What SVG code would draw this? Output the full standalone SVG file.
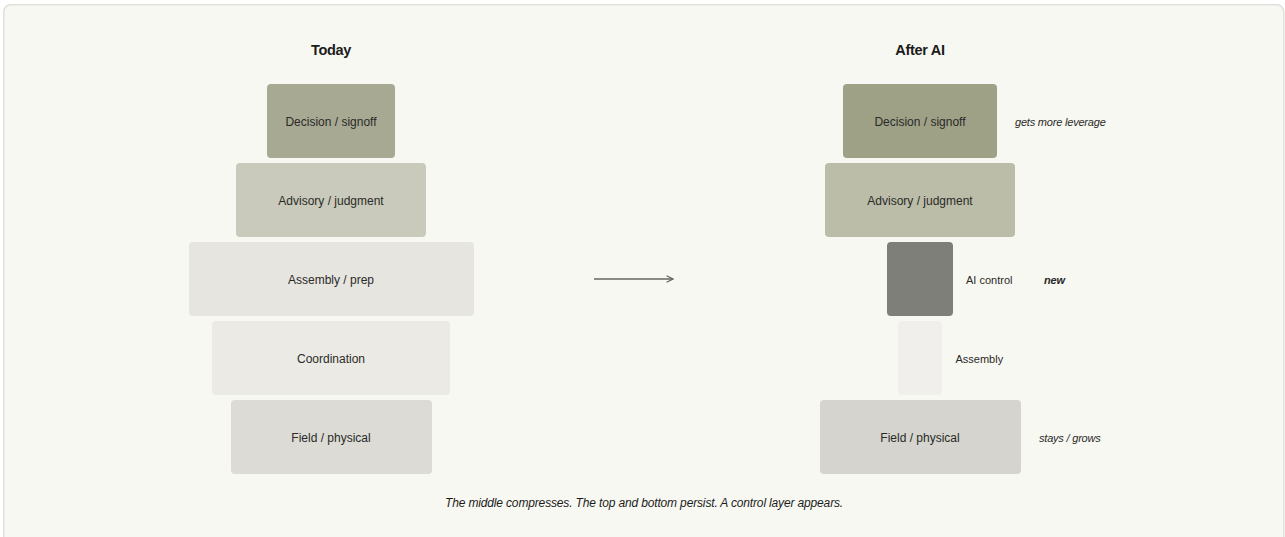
<svg xmlns="http://www.w3.org/2000/svg" width="1285" height="537" viewBox="0 0 1285 537">
<style>
.bg{fill:#f8f8f3;stroke:#e1e1db;stroke-width:1.5}
.title{font-family:"Liberation Sans",Arial,sans-serif;font-size:14.5px;font-weight:bold;fill:#1c1c1a;text-anchor:middle;letter-spacing:-0.3px}
.lbl{font-family:"Liberation Sans",Arial,sans-serif;font-size:12px;fill:#2a2a27;text-anchor:middle}
.side{font-family:"Liberation Sans",Arial,sans-serif;font-size:11px;fill:#2a2a27}
.note{font-family:"Liberation Sans",Arial,sans-serif;font-size:11px;font-style:italic;fill:#2a2a27;letter-spacing:-0.2px}
.cap{font-family:"Liberation Sans",Arial,sans-serif;font-size:12px;font-style:italic;fill:#1c1c1a;text-anchor:middle;letter-spacing:-0.15px}
.conn{stroke:#666662;stroke-width:1.5;fill:none}
</style>
<defs>
<marker id="arr" viewBox="0 0 10 10" refX="9" refY="5" markerWidth="8" markerHeight="8" markerUnits="userSpaceOnUse" orient="auto">
<path d="M1,1 L9,5 L1,9" fill="none" stroke="#666662" stroke-width="1.6"/>
</marker>
</defs>
<rect class="bg" x="3.75" y="4.75" width="1280" height="545" rx="7"/>
<text class="title" x="331" y="55">Today</text>
<text class="title" x="920" y="55">After AI</text>

<g id="today-decision"><rect x="267" y="84" width="128" height="74" rx="4" fill="#a7a993"/><text class="lbl" x="331" y="126">Decision / signoff</text></g>
<g id="today-advisory"><rect x="236" y="163" width="190" height="74" rx="4" fill="#c9cabb"/><text class="lbl" x="331" y="205">Advisory / judgment</text></g>
<g id="today-assembly"><rect x="189" y="242" width="285" height="74" rx="4" fill="#e7e5df"/><text class="lbl" x="331" y="284">Assembly / prep</text></g>
<g id="today-coordination"><rect x="212" y="321" width="238" height="74" rx="4" fill="#ebeae5"/><text class="lbl" x="331" y="363">Coordination</text></g>
<g id="today-field"><rect x="231" y="400" width="201" height="74" rx="4" fill="#dcdbd6"/><text class="lbl" x="331" y="442">Field / physical</text></g>

<g id="ai-decision"><rect x="843" y="84" width="154" height="74" rx="4" fill="#9fa187"/><text class="lbl" x="920" y="126">Decision / signoff</text><text class="note" x="1015" y="126">gets more leverage</text></g>
<g id="ai-advisory"><rect x="825" y="163" width="190" height="74" rx="4" fill="#bbbda8"/><text class="lbl" x="920" y="205">Advisory / judgment</text></g>
<g id="ai-control"><rect x="887" y="242" width="66" height="74" rx="4" fill="#7e7f78"/><text class="side" x="966" y="284">AI control</text><text class="note" x="1044" y="284" font-weight="bold">new</text></g>
<g id="ai-assembly"><rect x="898" y="321" width="44" height="74" rx="4" fill="#f0efeb"/><text class="side" x="955.5" y="363">Assembly</text></g>
<g id="ai-field"><rect x="820" y="400" width="201" height="74" rx="4" fill="#d5d4cf"/><text class="lbl" x="920" y="442">Field / physical</text><text class="note" x="1039" y="442">stays / grows</text></g>

<g id="connectors"><line class="conn" x1="594" y1="279" x2="673" y2="279" marker-end="url(#arr)"/></g>

<text class="cap" x="644" y="507">The middle compresses. The top and bottom persist. A control layer appears.</text>
</svg>
